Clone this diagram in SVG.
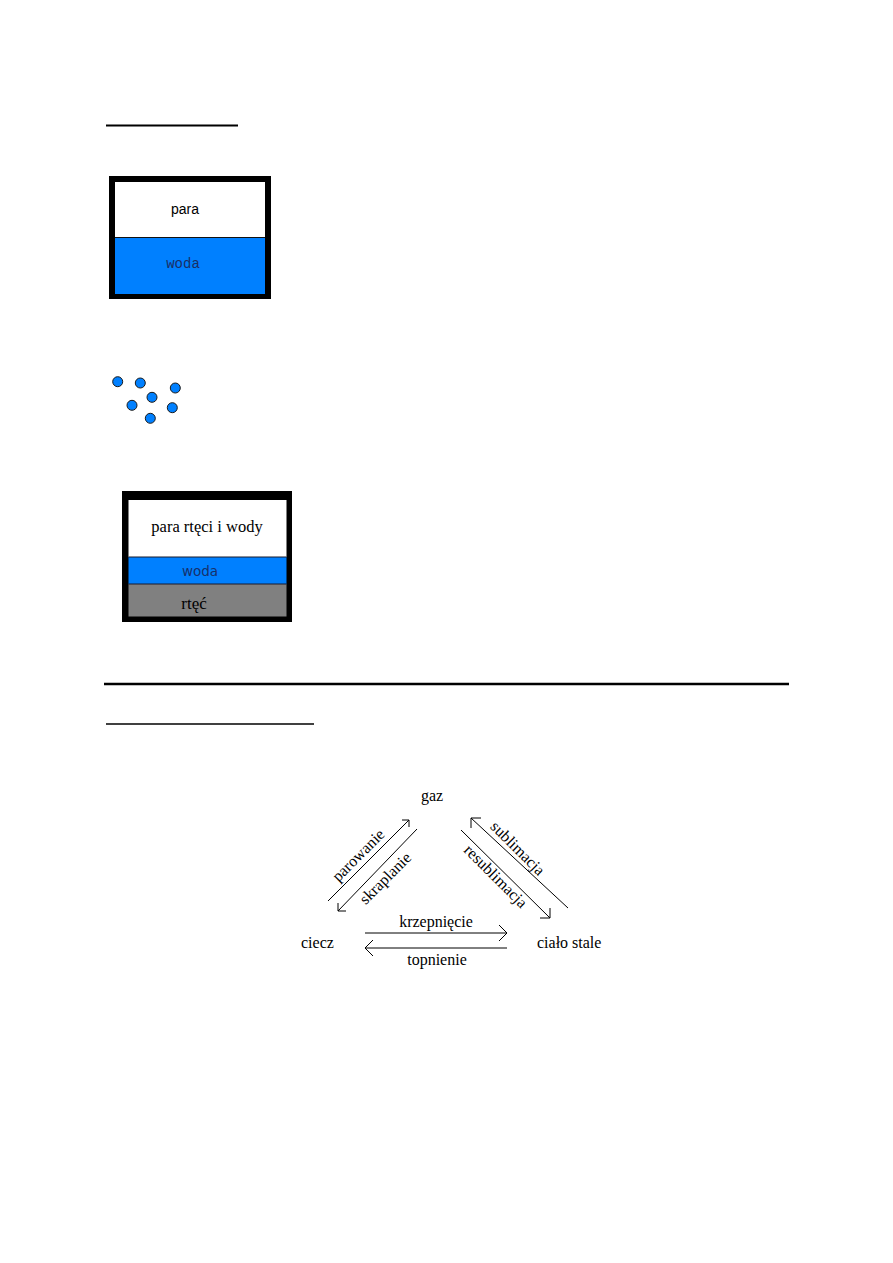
<svg xmlns="http://www.w3.org/2000/svg" width="893" height="1263" viewBox="0 0 893 1263">
<style>
.rule{stroke:#000;fill:none}
.serif{font-family:"Liberation Serif","Times New Roman",serif;fill:#000}
.lbl{font-family:"Liberation Serif","Times New Roman",serif;font-size:16px;fill:#000}
.arr{stroke:#000;stroke-width:1;fill:none}
.dot{fill:#0080ff;stroke:#1a1a1a;stroke-width:1}
.blue{fill:#0080ff}
</style>
<rect width="893" height="1263" fill="#fff"/>

<g id="underline-top"><line class="rule" x1="106" y1="125.5" x2="238" y2="125.5" stroke-width="2"/></g>

<g id="box1">
  <rect x="109" y="176" width="162" height="123" fill="#000"/>
  <rect x="115" y="182" width="150" height="56" fill="#fff"/>
  <rect x="115" y="238" width="150" height="56" class="blue"/>
  <line x1="115" y1="237.5" x2="265" y2="237.5" stroke="#111" stroke-width="1"/>
  <text x="185" y="214" text-anchor="middle" font-family="'Liberation Sans',Arial,sans-serif" font-size="14" fill="#000">para</text>
  <text x="183" y="268" text-anchor="middle" font-family="'Liberation Mono','Courier New',monospace" font-size="14" fill="#1a2f66">woda</text>
</g>

<g id="dots">
  <circle class="dot" cx="117.7" cy="381.7" r="5"/>
  <circle class="dot" cx="140.3" cy="383" r="5"/>
  <circle class="dot" cx="175.3" cy="388" r="5"/>
  <circle class="dot" cx="152" cy="397.3" r="5"/>
  <circle class="dot" cx="132" cy="405.3" r="5"/>
  <circle class="dot" cx="172.3" cy="407.7" r="5"/>
  <circle class="dot" cx="150.3" cy="418.3" r="5"/>
</g>

<g id="box2">
  <rect x="122" y="491" width="170" height="131" fill="#000"/>
  <rect x="128.5" y="500" width="158" height="57" fill="#fff"/>
  <rect x="128.5" y="557" width="158" height="27" class="blue"/>
  <rect x="128.5" y="584" width="158" height="32.5" fill="#808080"/>
  <line x1="128.5" y1="557" x2="286.5" y2="557" stroke="#1a1a2a" stroke-width="1"/>
  <line x1="128.5" y1="584" x2="286.5" y2="584" stroke="#1a1a2a" stroke-width="1"/>
  <text x="207" y="532" text-anchor="middle" class="serif" font-size="16.5">para rtęci i wody</text>
  <text x="200" y="576" text-anchor="middle" font-family="'DejaVu Sans',Verdana,sans-serif" font-size="13.5" fill="#17306b">woda</text>
  <text x="194" y="609" text-anchor="middle" class="serif" font-size="17" fill="#111">rtęć</text>
</g>

<g id="rule-mid"><line class="rule" x1="104" y1="684" x2="789" y2="684" stroke-width="2.5"/></g>
<g id="underline-bottom"><line class="rule" x1="106" y1="724" x2="314" y2="724" stroke-width="1.5"/></g>

<g id="node-gaz"><text class="lbl" x="432" y="801" text-anchor="middle">gaz</text></g>
<g id="node-ciecz"><text class="lbl" x="301" y="948">ciecz</text></g>
<g id="node-cialo"><text class="lbl" x="537" y="948">ciało stale</text></g>

<g id="connectors">
  <path class="arr" d="M328,901 L409,820 M402,820 L409,820 L409,827"/>
  <path class="arr" d="M417,829 L338,911 M338,903 L338,911 L346,911"/>
  <path class="arr" d="M568,908 L471,818 M481,818 L471,818 L471,828"/>
  <path class="arr" d="M461,830 L550,918 M550,908 L550,918 L540,918"/>
  <path class="arr" d="M365,933 L507,933 M499,925 L507,933 L499,941"/>
  <path class="arr" d="M365,948 L507,948 M373,940 L365,948 L373,956"/>
  <text class="lbl" x="362" y="859" text-anchor="middle" transform="rotate(-45 362 859)">parowanie</text>
  <text class="lbl" x="389" y="882" text-anchor="middle" transform="rotate(-45 389 882)">skraplanie</text>
  <text class="lbl" x="514" y="852" text-anchor="middle" transform="rotate(45 514 852)">sublimacja</text>
  <text class="lbl" x="492" y="880" text-anchor="middle" transform="rotate(45 492 880)">resublimacja</text>
  <text class="lbl" x="436" y="927" text-anchor="middle">krzepnięcie</text>
  <text class="lbl" x="437" y="965" text-anchor="middle">topnienie</text>
</g>
</svg>
